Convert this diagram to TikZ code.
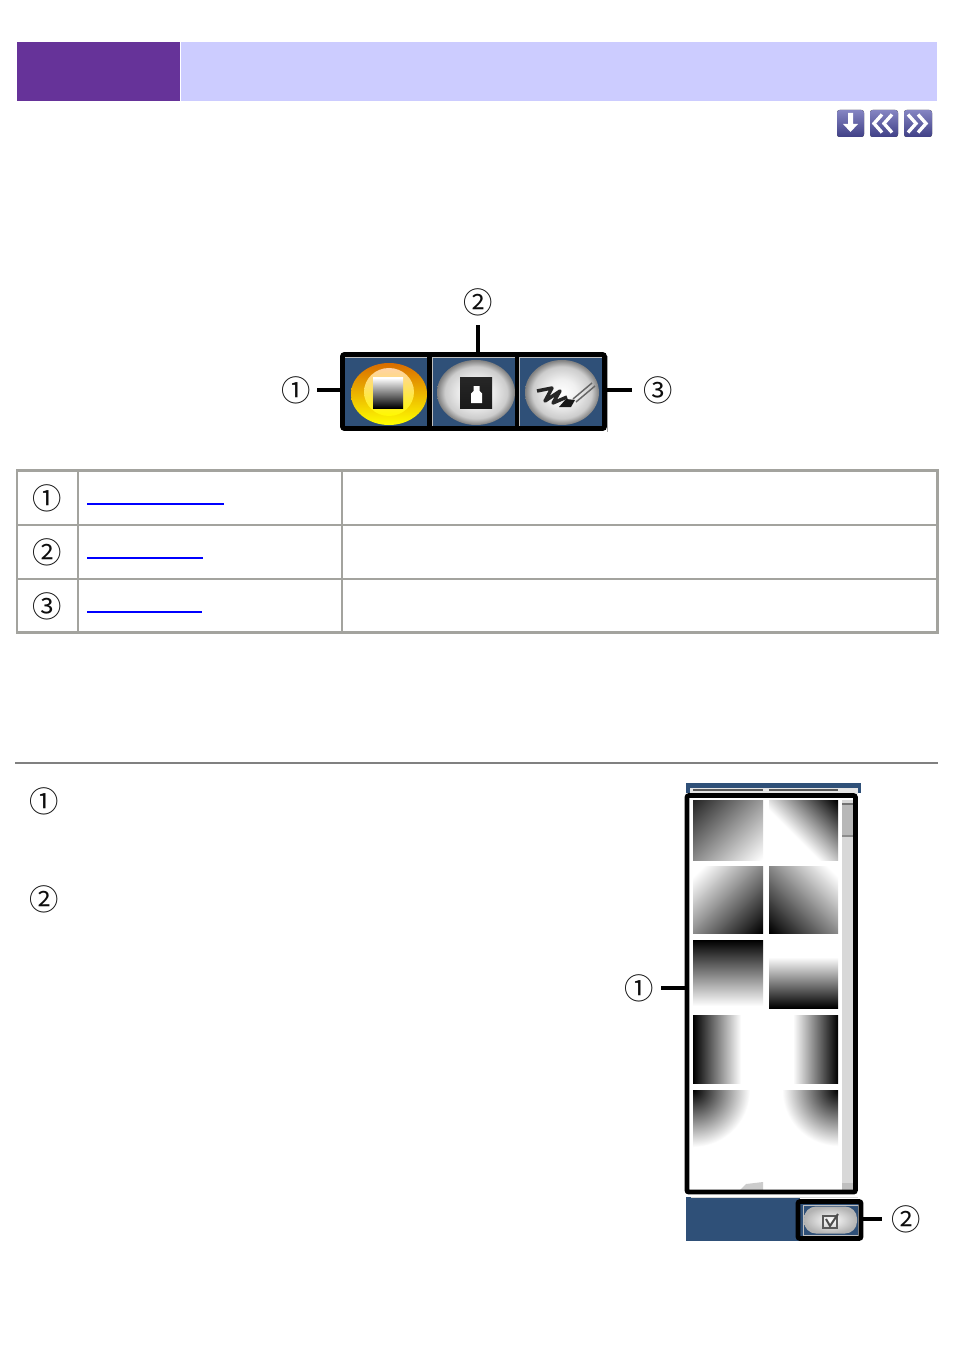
\documentclass[tikz,border=0pt]{standalone}
\usepackage{fontspec}
\setmainfont{DejaVu Sans}
\newfontfamily\circled{Noto Sans CJK JP}
\pgfdeclarehorizontalshading{diagA}{100bp}{color(0bp)=(black!90); color(15bp)=(black!85); color(85bp)=(white); color(100bp)=(white)}
\pgfdeclarehorizontalshading{diagB}{100bp}{color(0bp)=(black); color(15bp)=(black); color(58bp)=(white); color(100bp)=(white)}
\pgfdeclarehorizontalshading{diagC}{100bp}{color(0bp)=(black); color(15bp)=(black); color(80bp)=(white); color(100bp)=(white)}
\pgfdeclareradialshading{lens}{\pgfpoint{0bp}{0bp}}{color(0bp)=(white); color(10bp)=(white!94!black); color(20bp)=(black!20); color(25bp)=(black!50); color(50bp)=(black!50)}
\definecolor{hdrpurple}{HTML}{663399}
\definecolor{hdrlilac}{HTML}{CCCCFF}
\definecolor{panelblue}{HTML}{2F5078}
\definecolor{tablegrey}{HTML}{A3A39E}
\definecolor{navblue}{HTML}{5050A8}
\definecolor{barlight}{HTML}{D8D8D8}
\tikzset{
  numlabel/.style={inner sep=0pt,font=\circled\fontsize{22}{22}\selectfont,text=black!95},
  tablenum/.style={numlabel},
  conn/.style={line width=3.4pt,black},
  frame/.style={draw=black,line width=3.6pt,rounded corners=1.5pt,inner sep=0pt},
  divider/.style={black,line width=3.4pt},
  cellrule/.style={draw=tablegrey,line width=1.8pt},
  linkline/.style={draw=blue,line width=1pt},
  innerline/.style={draw=black!25!white,line width=.7pt},
  navbtn/.style={rounded corners=2pt,top color=navblue!70!white,bottom color=navblue!80!black},
  navmark/.style={draw=white,line width=2.5pt,line join=miter},
}
\begin{document}
\begin{tikzpicture}[x=0.75pt,y=-0.75pt]
\useasboundingbox (0,0) rectangle (954,1351);
% header
\fill[hdrpurple] (17,42) rectangle (180,101);
\fill[hdrlilac] (181,42) rectangle (937,101);
% navigation icons
\fill[navbtn] (837,110) rectangle (864,137);
\fill[white] (848,113) -- (853,113) -- (853,124) -- (858,124) -- (850.5,132) -- (843,124) -- (848,124) -- cycle;
\fill[navbtn] (870,110) rectangle (898,137);
\draw[navmark] (882,114.5) -- (874,123.5) -- (882,132.5);
\draw[navmark] (892,114.5) -- (884,123.5) -- (892,132.5);
\fill[navbtn] (904,110) rectangle (932,137);
\draw[navmark] (908,114.5) -- (916,123.5) -- (908,132.5);
\draw[navmark] (918,114.5) -- (926,123.5) -- (918,132.5);
% toolbar
\fill[panelblue] (343,355) rectangle (605,429);
\draw[black!35,line width=1pt] (607.5,356) -- (607.5,432);
\draw[innerline] (344,357) rectangle (427,426);
\draw[innerline] (432,357) rectangle (515,426);
\draw[innerline] (519,357) rectangle (603,426);
% button 1
\shade[top color=orange!85!black,bottom color=yellow] (389,394) ellipse (38 and 31);
\shade[top color=orange!35!white,middle color=yellow!50!orange,bottom color=yellow!95!orange] (389,392) ellipse (25 and 24);
\shade[top color=white,bottom color=black] (373,378) rectangle (403,408);
% button 2
\shade[shading=lens] (476,392.5) ellipse (39 and 32.5);
\shade[top color=black!85,bottom color=black!90] (460,378) rectangle (492,408);
\fill[white] (471,403) -- (471,393.5) -- (473.5,391) -- (473.5,386) -- (479.5,386) -- (479.5,391) -- (482,393.5) -- (482,403) -- cycle;
% button 3
\shade[shading=lens] (562,392.5) ellipse (37 and 32.5);
\draw[black!85,line width=2.6pt,line join=round] (537,391) -- (552,388) -- (545,401) -- (560,391) -- (553,403) -- (567,397);
\fill[black!90] (559,407) -- (566,399) -- (575,400) -- (571,407) -- cycle;
\draw[black!60,line width=1.1pt] (573,399) -- (592,383);
\draw[black!60,line width=1.1pt] (576,402) -- (595,386);
% toolbar frame
\node[frame,minimum width=196.5pt,minimum height=55.5pt] (toolbar) at (473.5,391.5) {};
\draw[divider] (429.5,353) -- (429.5,430);
\draw[divider] (517,353) -- (517,430);
\node[numlabel,minimum size=31.5pt] (t1) at (296,390) {①};
\node[numlabel,minimum size=34.5pt] (t2) at (478,302) {②};
\node[numlabel,minimum size=39pt] (t3) at (658,390) {③};
\draw[conn] (t1.east) -- (t1.east -| toolbar.west);
\draw[conn] (t2.south) -- (t2.south |- toolbar.north);
\draw[conn] (t3.west) -- (t3.west -| toolbar.east);
% table
\draw[draw=tablegrey,line width=2pt] (17,470.5) rectangle (937.5,632.5);
\draw[cellrule] (78,470) -- (78,633);
\draw[cellrule] (342,470) -- (342,633);
\draw[cellrule] (17,525) -- (938,525);
\draw[cellrule] (17,579) -- (938,579);
\node[tablenum] (r1) at (47,498) {①};
\node[tablenum] (r2) at (47,552) {②};
\node[tablenum] (r3) at (47,606) {③};
\draw[linkline] (87,504) -- (224,504);
\draw[linkline] (87,558) -- (203,558);
\draw[linkline] (87,612) -- (202,612);
% rule
\draw[draw=black!50,line width=2pt] (15,763) -- (938,763);
\node[numlabel] (s1) at (44,801) {①};
\node[numlabel] (s2) at (44,899) {②};
% palette panel
\fill[panelblue] (686,783) rectangle (861,793);
\fill[black!10] (690,788) rectangle (858,794);
\fill[black!65] (693,788.5) rectangle (763,791);
\fill[black!65] (769,788.5) rectangle (838,791);
\fill[white] (687,795) rectangle (856,1193);
\fill[barlight] (842,800) rectangle (855,1192);
\fill[black!28] (842,804) rectangle (855,836);
\fill[black!55] (842,803) rectangle (855,804.5);
\fill[black!45] (842,835) rectangle (855,836.5);
\fill[black!25] (842,1183) rectangle (855,1191);
% tiles
\shade[shading=diagA,shading angle=315] (693,800) rectangle (763,860);
\shade[shading=diagB,shading angle=225] (769,800) rectangle (838,860);
\shade[shading=diagC,shading angle=135] (693,866) rectangle (763,933);
\shade[shading=diagC,shading angle=45] (769,866) rectangle (838,933);
\shade[top color=black,bottom color=white] (693,940) rectangle (763,1006);
\shade[top color=white,bottom color=black] (769,957) rectangle (838,1008);
\shade[left color=black,right color=white] (693,1015) rectangle (741,1083);
\shade[left color=white,right color=black] (793,1015) rectangle (838,1083);
\begin{scope}
\clip (693,1090) rectangle (763,1150);
\shade[inner color=black,outer color=white] (693,1090) circle (57);
\end{scope}
\begin{scope}
\clip (775,1090) rectangle (838,1150);
\shade[inner color=black,outer color=white] (838,1090) circle (56);
\end{scope}
\fill[black!20] (740,1190) -- (746,1184) -- (763,1182) -- (763,1190) -- cycle;
\node[frame,minimum width=126.4pt,minimum height=297.4pt] (palette) at (771.2,993.8) {};
\node[numlabel,minimum size=33pt] (p1) at (639,988) {①};
\draw[conn] (p1.east) -- (p1.east -| palette.west);
% bottom bar
\fill[panelblue] (686,1197) rectangle (800,1241);
\fill[black!15] (691,1196.5) rectangle (858,1198);
\fill[panelblue] (800,1203) rectangle (860,1237);
\draw[innerline] (803,1205) rectangle (858,1235);
\shade[inner color=white,outer color=black!30,rounded corners=9pt] (804,1206.5) rectangle (857,1233.5);
\draw[black!65,line width=1pt] (823,1216) rectangle (837,1228);
\draw[black!70,line width=1.5pt] (826,1219) -- (830,1226) -- (838,1214);
\node[frame,minimum width=47.25pt,minimum height=27.75pt] (okbtn) at (829.5,1220) {};
\node[numlabel,minimum size=36pt] (p2) at (906,1219) {②};
\draw[conn] (p2.west) -- (p2.west -| okbtn.east);
\end{tikzpicture}
\end{document}
